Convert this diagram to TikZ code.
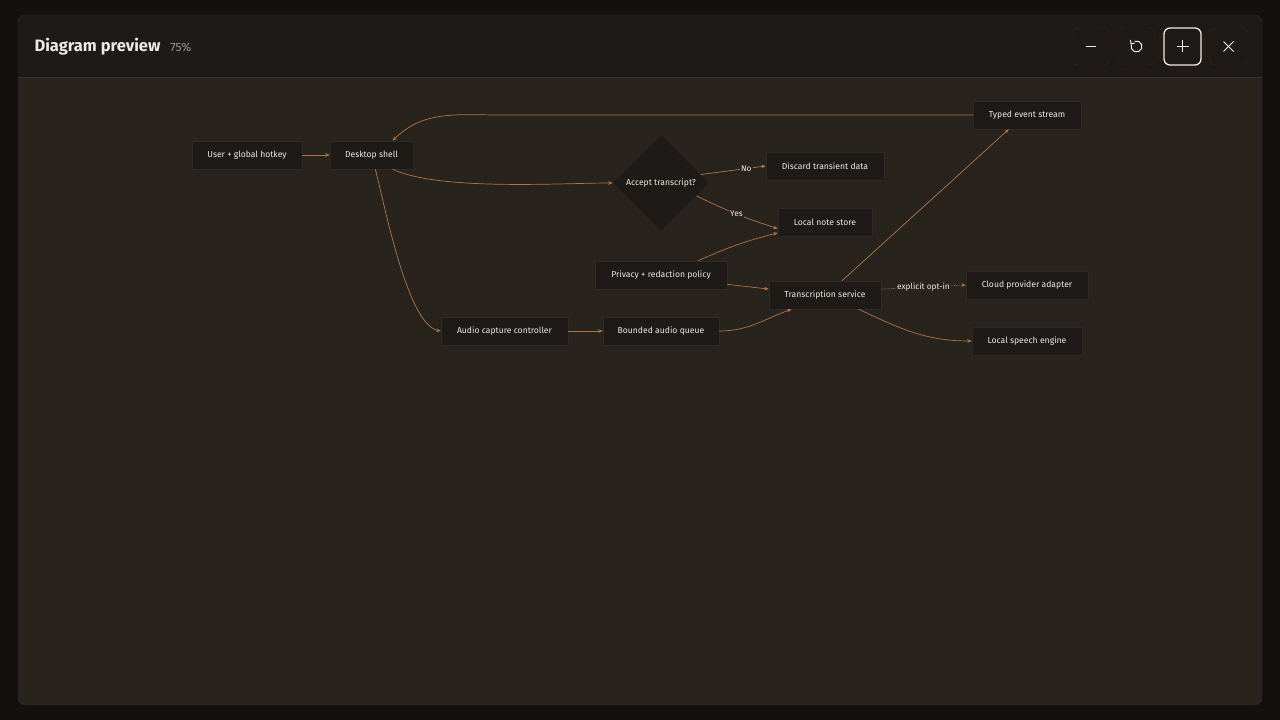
\documentclass[tikz,border=0pt]{standalone}
\usepackage{fontspec}
\setmainfont{Fira Sans}
\usetikzlibrary{arrows.meta, shapes.geometric}

\definecolor{pagebg}{HTML}{121110}
\definecolor{headbg}{HTML}{1E1A17}
\definecolor{panelbg}{HTML}{29231D}
\definecolor{panelline}{HTML}{34302B}
\definecolor{boxfill}{HTML}{1D1A17}
\definecolor{boxline}{HTML}{2E2925}
\definecolor{flowcol}{HTML}{B07548}
\definecolor{nodetext}{HTML}{F0EAE2}
\definecolor{dimtext}{HTML}{9A948C}

\begin{document}
\begin{tikzpicture}[
        x=1pt, y=1pt,
        every node/.style={font=\fontsize{8.6}{10}\selectfont, text=nodetext},
        box/.style={rectangle, draw=boxline, fill=boxfill, minimum height=28, inner sep=2},
        decide/.style={diamond, fill=boxfill, minimum width=96, minimum height=96, inner sep=0},
        flow/.style={draw=flowcol, line width=0.7, -{Stealth[length=4.5, width=3.5]}},
        optin/.style={flow, densely dotted},
        tag/.style={fill=panelbg, inner sep=1, font=\fontsize{8.3}{10}\selectfont},
        btn/.style={rectangle, rounded corners=6, draw=boxline, fill=headbg, minimum size=37},
    ]
        % Fenster
        \fill[pagebg] (0,0) rectangle (1280,720);
        \useasboundingbox (0,0) rectangle (1280,720);
        \fill[panelbg, rounded corners=8] (18,15) rectangle (1262,705);
        \fill[headbg, rounded corners=8] (18,705) rectangle (1262,643);
        \fill[headbg] (18,643) rectangle (1262,660);
        \draw[panelline] (18,643) -- (1262,643);
        \draw[panelline, rounded corners=8] (18,15) rectangle (1262,705);

        \node[anchor=west, font=\fontsize{16.5}{19}\bfseries\selectfont] (title) at (31,673) {Diagram preview};
        \node[anchor=west, text=dimtext, font=\fontsize{12}{14}\selectfont] (zoom) at ([xshift=3]title.east) {75\%};

        % Knoepfe
        \node[btn] (bminus) at (1090.5,673.5) {};
        \node[btn] (breset) at (1136.5,673.5) {};
        \node[btn, draw=nodetext, line width=1.3] (bplus) at (1182.5,673.5) {};
        \node[btn] (bclose) at (1228.5,673.5) {};
        \draw[nodetext, line width=1] ([xshift=-5]bminus.center) -- ([xshift=5]bminus.center);
        \draw[nodetext, line width=1] ([xshift=-6]bplus.center) -- ([xshift=6]bplus.center);
        \draw[nodetext, line width=1] ([yshift=-6]bplus.center) -- ([yshift=6]bplus.center);
        \draw[nodetext, line width=1] ([shift={(-5,-5)}]bclose.center) -- ([shift={(5,5)}]bclose.center);
        \draw[nodetext, line width=1] ([shift={(-5,5)}]bclose.center) -- ([shift={(5,-5)}]bclose.center);
        \draw[nodetext, line width=1] ([shift={(110:5.5)}]breset.center) arc[start angle=110, end angle=-200, radius=5.5];
        \draw[nodetext, line width=1] ([shift={(-6,6.5)}]breset.center) -- ([shift={(-5.5,2.5)}]breset.center) -- ([shift={(-1.8,3.5)}]breset.center);

        % Knoten
        \node[box, minimum width=110] (user) at (247,565) {User + global hotkey};
        \node[box, minimum width=83] (desk) at (371.5,565) {Desktop shell};
        \node[decide] (accept) at (661,537) {Accept transcript?};
        \node[box, minimum width=118] (discard) at (825,554) {Discard transient data};
        \node[box, minimum width=94] (notes) at (825,498) {Local note store};
        \node[box, minimum width=108] (events) at (1027,605) {Typed event stream};
        \node[box, minimum width=132] (privacy) at (661,445) {Privacy + redaction policy};
        \node[box, minimum width=112] (trans) at (825,425) {Transcription service};
        \node[box, minimum width=122] (cloud) at (1027,435) {Cloud provider adapter};
        \node[box, minimum width=110] (speech) at (1027,379) {Local speech engine};
        \node[box, minimum width=127] (capture) at (504.5,389) {Audio capture controller};
        \node[box, minimum width=116] (queue) at (661,389) {Bounded audio queue};

        % Verbindungen
        \coordinate (eventsbend) at (500,605);
        \draw[flow] (user) -- (desk);
        \draw[flow] (desk.-34) to[out=-25, in=180, looseness=0.6] (accept.west);
        \draw[flow] (events.west) -- (eventsbend) to[out=180, in=45, looseness=1] (desk.34);
        \draw[flow] (desk.-75) to[out=-75, in=170, looseness=0.5] (capture.west);
        \draw[flow] (accept.12) -- node[tag, pos=0.7] {No} (discard.west);
        \draw[flow] (accept.-20) to[bend right=4] node[tag, pos=0.5] {Yes} (notes.188);
        \draw[flow] (privacy.21) to[bend left=5] (notes.193);
        \draw[flow] (privacy.-8) -- (trans.174);
        \draw[flow] (capture) -- (queue);
        \draw[flow] (queue.east) to[out=0, in=200] (trans.203);
        \draw[flow] (trans.40) -- (events.218);
        \draw[optin] (trans.6) -- node[tag, pos=0.5] {explicit opt-in} (cloud.west);
        \draw[flow] (trans.-23) to[out=-25, in=180] (speech.west);
\end{tikzpicture}
\end{document}
